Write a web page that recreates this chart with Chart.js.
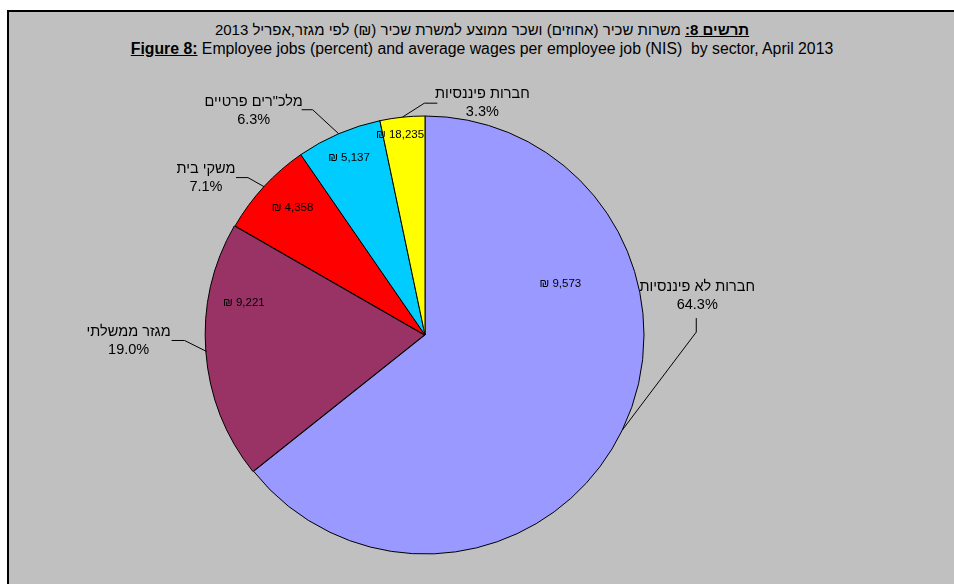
<!DOCTYPE html>
<html>
<head>
<meta charset="utf-8">
<script src="https://cdn.jsdelivr.net/npm/chart.js@4"></script>
<style>
  html, body { margin: 0; padding: 0; background: #fff; }
  body { width: 954px; height: 584px; position: relative; overflow: hidden; font-family: "Liberation Sans", Arial, sans-serif; }
  .box { position: absolute; left: 7px; top: 10px; width: 960px; height: 600px; background: #c0c0c0; border-left: 2px solid #000; border-top: 2px solid #000; }
  .title { position: absolute; left: 9px; width: 946px; text-align: center; line-height: 18px; color: #000; }
  .title.he { top: 21px; font-size: 15px; }
  .title.en { top: 40px; font-size: 15.8px; }
  canvas { position: absolute; left: 0; top: 0; }
</style>
</head>
<body>
<div class="box"></div>
<div class="title he" dir="rtl"><b><u>תרשים 8:</u></b> משרות שכיר (אחוזים) ושכר ממוצע למשרת שכיר (₪) לפי מגזר,אפריל 2013</div>
<div class="title en"><b><u>Figure 8:</u></b> Employee jobs (percent) and average wages per employee job (NIS)&nbsp; by sector, April 2013</div>
<canvas id="pie" width="954" height="584"></canvas>
<script>
const sectors = ['חברות לא פיננסיות', 'מגזר ממשלתי', 'משקי בית', 'מלכ"רים פרטיים', 'חברות פיננסיות'];
const jobShares = [64.3, 19.0, 7.1, 6.3, 3.3];
const avgWages = [9573, 9221, 4358, 5137, 18235];
const sliceColors = ['#9999FF', '#993366', '#FF0000', '#00CCFF', '#FFFF00'];

// callout geometry, relative to the point on the rim at each slice's mid angle
const callouts = [
  { line: [[74, -98], [74, -112]], label: [75, -134] },
  { line: [[-22, -11], [-35, -11]], label: [-78, -10] },
  { line: [[-16, -9], [-28, -9]], label: [-58, -9] },
  { line: [[-26, -24], [-37, -24]], label: [-85, -23] },
  { line: [[22, -14], [35, -14]], label: [80, -14] },
];
// where the wage sits inside each slice: fraction along the arc, fraction of radius
const wageSpots = [
  { t: 0.30, r: 0.66 },
  { t: 0.71, r: 0.84 },
  { t: 0.55, r: 0.84 },
  { t: 0.50, r: 0.88 },
  { t: 0.40, r: 0.92 },
];

const pieLabels = {
  id: 'pieLabels',
  afterDatasetsDraw(chart) {
    const { ctx } = chart;
    const arcs = chart.getDatasetMeta(0).data;
    ctx.save();
    ctx.fillStyle = '#000';
    ctx.strokeStyle = '#000';
    ctx.lineWidth = 1;
    ctx.textAlign = 'center';
    ctx.textBaseline = 'middle';

    arcs.forEach((arc, i) => {
      const { x, y, startAngle, endAngle, outerRadius } = arc.getProps(
        ['x', 'y', 'startAngle', 'endAngle', 'outerRadius'], true);
      const mid = (startAngle + endAngle) / 2;
      const ax = x + Math.cos(mid) * outerRadius;
      const ay = y + Math.sin(mid) * outerRadius;
      const c = callouts[i];

      ctx.beginPath();
      ctx.moveTo(ax, ay);
      c.line.forEach(([dx, dy]) => ctx.lineTo(ax + dx, ay + dy));
      ctx.stroke();

      ctx.font = '14.5px "Liberation Sans", Arial, sans-serif';
      ctx.fillText(sectors[i], ax + c.label[0], ay + c.label[1] - 9);
      ctx.fillText(jobShares[i].toFixed(1) + '%', ax + c.label[0], ay + c.label[1] + 9);

      const spot = wageSpots[i];
      const a = startAngle + spot.t * (endAngle - startAngle);
      const wx = x + Math.cos(a) * outerRadius * spot.r;
      const wy = y + Math.sin(a) * outerRadius * spot.r;
      ctx.font = '11.5px "Liberation Sans", Arial, sans-serif';
      ctx.fillText('₪ ' + avgWages[i].toLocaleString('en-US'), wx, wy);
    });
    ctx.restore();
  },
};

new Chart(document.getElementById('pie'), {
  type: 'pie',
  data: {
    labels: sectors,
    datasets: [
      {
        data: jobShares,
        backgroundColor: sliceColors,
        borderColor: '#000',
        borderWidth: 1,
        offset: [0, 3, 0, 0, 0],
      },
    ],
  },
  options: {
    responsive: false,
    animation: false,
    radius: 219,
    layout: { padding: { left: 0, right: 104, top: 86, bottom: 0 } },
    plugins: {
      legend: { display: false },
      tooltip: { enabled: false },
    },
  },
  plugins: [pieLabels],
});
</script>
</body>
</html>
